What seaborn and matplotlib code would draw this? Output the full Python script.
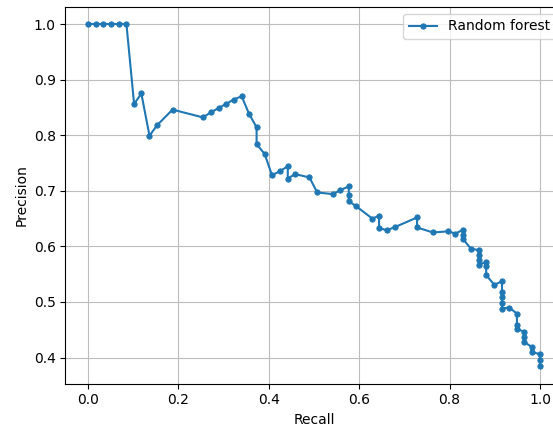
import numpy as np
import pandas as pd
import seaborn as sns
import matplotlib
matplotlib.use("Agg")
import matplotlib.pyplot as plt

# Precision-recall points
recall = [0.0, 0.017, 0.034, 0.051, 0.068, 0.085, 0.102, 0.118, 0.136, 0.153,
          0.187, 0.254, 0.272, 0.289, 0.305, 0.322, 0.340, 0.356, 0.373, 0.373,
          0.391, 0.407, 0.424, 0.442, 0.442, 0.458, 0.490, 0.507, 0.542, 0.558,
          0.577, 0.577, 0.577, 0.592, 0.629, 0.644, 0.644, 0.661, 0.680, 0.728,
          0.728, 0.763, 0.797, 0.813, 0.830, 0.830, 0.830, 0.847, 0.865, 0.865,
          0.865, 0.865, 0.881, 0.881, 0.881, 0.899, 0.916, 0.916, 0.916, 0.916,
          0.916, 0.932, 0.949, 0.949, 0.949, 0.965, 0.965, 0.965, 0.982, 0.982,
          1.0, 1.0, 1.0]
precision = [1.0, 1.0, 1.0, 1.0, 1.0, 1.0, 0.856, 0.875, 0.799, 0.818,
             0.846, 0.832, 0.841, 0.849, 0.856, 0.864, 0.870, 0.839, 0.814, 0.784,
             0.766, 0.728, 0.735, 0.744, 0.722, 0.730, 0.724, 0.697, 0.694, 0.701,
             0.708, 0.693, 0.681, 0.673, 0.650, 0.655, 0.633, 0.629, 0.635, 0.652,
             0.634, 0.625, 0.627, 0.623, 0.630, 0.621, 0.613, 0.596, 0.593, 0.584,
             0.575, 0.567, 0.572, 0.564, 0.548, 0.531, 0.537, 0.518, 0.509, 0.499,
             0.488, 0.490, 0.479, 0.459, 0.452, 0.446, 0.437, 0.428, 0.419, 0.410,
             0.406, 0.395, 0.384]

df = pd.DataFrame({"recall": recall, "precision": precision})

fig = plt.figure(figsize=(5.53, 4.30), dpi=100)
# right spine sits just past the image edge, as in the reference
ax = fig.add_axes([0.1183, 0.108, 0.899, 0.876])

color = "#1f77b4"
sns.lineplot(data=df, x="recall", y="precision", sort=False, estimator=None,
             marker=".", markersize=7.5, markeredgecolor=color, color=color,
             linewidth=1.5, label="Random forest", ax=ax)

ax.set_xlabel("Recall")
ax.set_ylabel("Precision")
ax.grid(True, color="#bdbdbd")
ax.legend(loc="upper right")

fig.savefig("out.png", dpi=100)
